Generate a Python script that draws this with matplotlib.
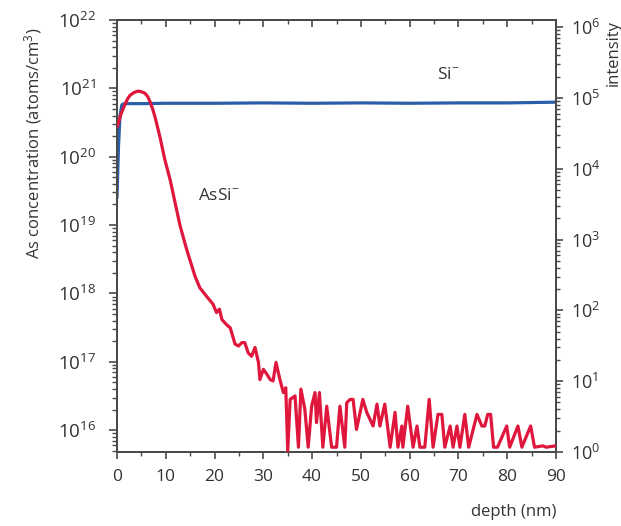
import matplotlib
matplotlib.use("Agg")
import matplotlib.pyplot as plt
import numpy as np
from matplotlib.ticker import LogLocator, MultipleLocator, NullFormatter

plt.rcParams['font.family'] = ['Open Sans', 'DejaVu Sans']
plt.rcParams['mathtext.fontset'] = 'custom'
plt.rcParams['mathtext.rm'] = 'Open Sans'
plt.rcParams['mathtext.it'] = 'Open Sans:italic'
plt.rcParams['mathtext.bf'] = 'Open Sans:bold'

# AsSi- profile (depth in nm, log10 of concentration)
as_depth = [0.1, 0.8, 1.6, 2.2, 2.7, 3.5, 4.3, 5.0, 5.7, 6.3, 6.8, 7.3, 7.8, 8.8, 9.8,
            10.9, 11.9, 12.9, 13.9,
            14.3, 16.0, 17.0, 18.0, 19.7, 20.4, 21.0, 21.5, 22.1, 22.8, 23.2, 24.2,
            24.9, 25.6, 26.2, 26.9, 27.6, 28.3, 29.0, 29.3, 30.0, 30.7, 31.4, 32.0,
            32.6, 33.4, 34.1, 34.6, 35.0,
            35.5, 36.5, 37.2, 37.7, 38.5, 39.2, 39.9, 40.6, 40.9, 41.5, 42.2, 43.0,
            44.0, 45.0, 45.7, 46.7, 47.1, 47.8, 48.4, 49.1, 50.4, 51.2, 52.5, 53.3,
            53.9, 54.9, 56.0, 57.0, 57.6, 58.4, 58.6, 59.6, 60.7, 61.5, 62.1, 63.1,
            64.0, 64.8, 65.8, 66.6, 67.2, 68.3, 68.9, 69.7, 70.3, 71.3, 72.1, 73.8,
            74.8, 75.4, 76.0, 76.6, 77.2, 78.0, 79.9, 80.5, 82.2, 83.0, 84.8, 85.6,
            87.3, 88.0, 89.9]
as_log = [20.45, 20.62, 20.76, 20.85, 20.90, 20.94, 20.96, 20.95, 20.93, 20.88, 20.80,
          20.70, 20.58, 20.29, 19.96, 19.66, 19.33, 19.00, 18.74,
          18.64, 18.25, 18.08, 17.99, 17.84, 17.72, 17.77, 17.62, 17.57, 17.52, 17.50,
          17.26, 17.23, 17.28, 17.28, 17.13, 17.08, 17.21, 16.99, 16.74, 16.89, 16.82,
          16.74, 16.72, 16.99, 16.74, 16.55, 16.62, 15.70,
          16.45, 16.50, 15.75, 16.60, 16.31, 15.75, 16.35, 16.55, 16.11, 16.55, 15.75,
          16.35, 15.75, 15.75, 16.35, 15.75, 16.40, 16.45, 16.45, 16.01, 16.45, 16.26,
          16.06, 16.38, 16.06, 16.38, 15.75, 16.26, 15.75, 16.06, 15.75, 16.35, 15.75,
          16.06, 15.75, 15.75, 16.45, 15.75, 16.23, 16.23, 15.75, 16.06, 15.75, 16.06,
          15.75, 16.23, 15.75, 16.23, 16.06, 16.06, 16.23, 16.23, 15.75, 15.75, 16.06,
          15.75, 16.06, 15.75, 16.06, 15.75, 15.77, 15.75, 15.77]

# Si- intensity (right axis)
si_depth = [0.0, 0.3, 0.6, 1.0, 1.5, 5, 10, 20, 30, 40, 50, 60, 70, 80, 85, 90]
si_int = [4.0e3, 2.0e4, 5.5e4, 8.0e4, 8.3e4, 8.3e4, 8.4e4, 8.4e4, 8.5e4, 8.4e4,
          8.5e4, 8.4e4, 8.5e4, 8.5e4, 8.6e4, 8.7e4]

xticks = [0, 10, 20, 30, 40, 50, 60, 70, 80, 90]

red = '#e0173d'
blue = '#2a5ea8'
gray = '#4a4a4a'
txt = '#333333'

fig = plt.figure(figsize=(6.21, 5.26), dpi=100)
ax = fig.add_axes([117 / 621, 74 / 526, 439 / 621, 432 / 526])
ax2 = ax.twinx()

ax.plot(as_depth, 10 ** np.array(as_log), color=red, lw=2.3, zorder=3)
ax2.plot(si_depth, si_int, color=blue, lw=2.3)
ax.set_zorder(ax2.get_zorder() + 1)
ax.patch.set_visible(False)

ax.set_yscale('log')
ax.set_ylim(10 ** 15.68, 1e22)
ax.set_xlim(0, 90)
ax2.set_yscale('log')
ax2.set_ylim(1, 10 ** 6.1)
ax2.xaxis.set_visible(False)

ax.set_xticks(xticks)
ax.xaxis.set_minor_locator(MultipleLocator(5))
ax.yaxis.set_major_locator(LogLocator(base=10, numticks=20))
ax.yaxis.set_minor_locator(LogLocator(base=10, subs=np.arange(2, 10), numticks=20))
ax.yaxis.set_minor_formatter(NullFormatter())
ax2.yaxis.set_major_locator(LogLocator(base=10, numticks=20))
ax2.yaxis.set_minor_locator(LogLocator(base=10, subs=np.arange(2, 10), numticks=20))
ax2.yaxis.set_minor_formatter(NullFormatter())

for a in (ax, ax2):
    for s in a.spines.values():
        s.set_color(gray)
        s.set_linewidth(1.4)
    a.xaxis.offsetText.set_visible(False)
    a.yaxis.offsetText.set_visible(False)

ax.tick_params(axis='y', which='major', direction='out', length=6, width=1.2,
               color=gray, labelcolor=txt, labelsize=13.5, pad=9)
ax.tick_params(axis='y', which='minor', direction='out', length=3.5, width=1.0, color=gray)
ax.tick_params(axis='x', which='major', direction='out', length=5, width=1.2,
               color=gray, labelcolor=txt, labelsize=12.5, pad=7, top=True)
ax.tick_params(axis='x', which='minor', direction='out', length=3, width=1.0,
               color=gray, top=True)
# top ticks point inward
for t in ax.xaxis.get_major_ticks() + ax.xaxis.get_minor_ticks():
    t.tick2line.set_marker(3)
ax2.tick_params(axis='y', which='major', direction='out', length=5, width=1.2,
                color=gray, labelcolor=txt, labelsize=13, pad=6)
ax2.tick_params(axis='y', which='minor', direction='out', length=3, width=1.0, color=gray)

ax.set_ylabel('As concentration (atoms/cm$^3$)', fontsize=12, color=txt)
ax.yaxis.set_label_coords(-0.167, 0.715)
ax.set_xlabel('depth (nm)', fontsize=12, color=txt, loc='right', labelpad=14)
fig.text(614 / 621, 1 - 20 / 526, 'intensity', rotation=90, ha='center', va='top',
         fontsize=12, color=txt)

ax.text(16.6, 10 ** 19.42, 'AsSi$^{-}$', fontsize=12.5, color=txt, va='center')
ax.text(65.6, 10 ** 21.2, 'Si$^{-}$', fontsize=12.5, color=txt, va='center')

fig.savefig('out.png', dpi=100)
